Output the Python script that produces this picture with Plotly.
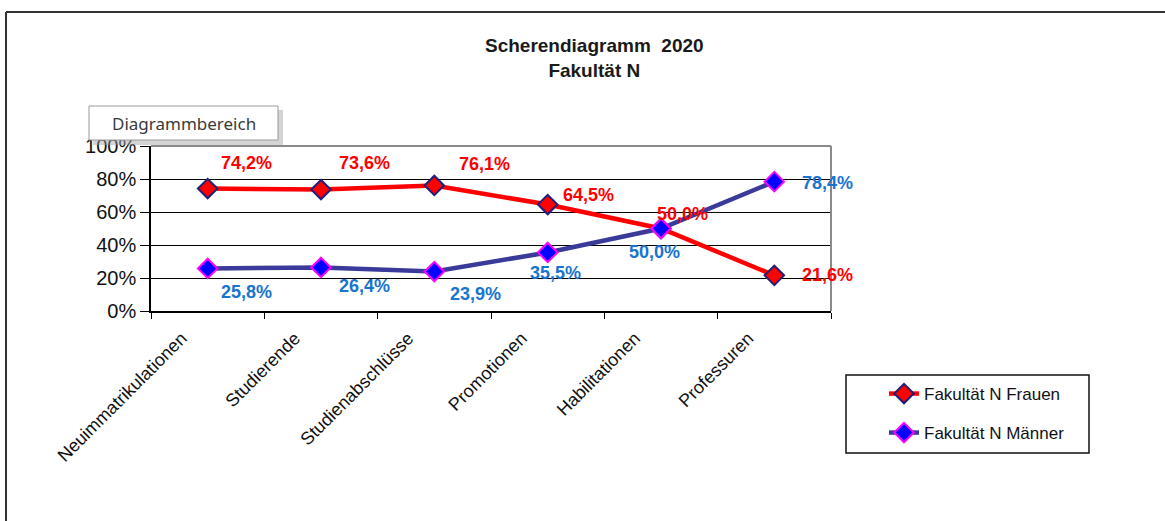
import plotly.graph_objects as go

categories = ["Neuimmatrikulationen", "Studierende", "Studienabschlüsse",
              "Promotionen", "Habilitationen", "Professuren"]
frauen = [74.2, 73.6, 76.1, 64.5, 50.0, 21.6]
maenner = [25.8, 26.4, 23.9, 35.5, 50.0, 78.4]
y_ticks = [0, 20, 40, 60, 80, 100]
y_ticktext = [f"{v}%" for v in y_ticks]

# label offsets (pixels) relative to each point: (xshift, yshift)
frauen_off = [(11, 26), (16, 27), (23, 21), (13, 10), (-6, 15), (26, 0)]
maenner_off = [(11, -24), (16, -19), (14, -22), (-20, -21), (-34, -23), (26, -1)]

W, H = 1165, 521
L, R, T, B = 151, 831, 146, 311


def px(x):
    return (x - L) / (R - L)


def py(y):
    return (B - y) / (B - T)


RED = "#FF0000"
NAVY = "#3A3A9A"
LBLUE = "#1874D0"

fig = go.Figure()
fig.add_trace(go.Scatter(
    x=categories, y=frauen, mode="lines+markers", name="Fakultät N Frauen",
    line=dict(color=RED, width=4.5),
    marker=dict(symbol="diamond", size=15, color=RED, line=dict(color="#1F1F7A", width=2)),
    legend="legend",
))
fig.add_trace(go.Scatter(
    x=categories, y=maenner, mode="lines+markers", name="Fakultät N Männer",
    line=dict(color=NAVY, width=4.5),
    marker=dict(symbol="diamond", size=15, color="#0000FF", line=dict(color="#FF00FF", width=2)),
    legend="legend2",
))


def fmt(v):
    return f"{v:.1f}".replace(".", ",") + "%"


annotations = []
for c, v, (dx, dy) in zip(categories, frauen, frauen_off):
    annotations.append(dict(x=c, y=v, xref="x", yref="y", text=fmt(v), showarrow=False,
                            xanchor="left", yanchor="middle", xshift=dx, yshift=dy,
                            font=dict(family="Liberation Sans, Arial", size=18, color=RED, weight="bold")))
for c, v, (dx, dy) in zip(categories, maenner, maenner_off):
    annotations.append(dict(x=c, y=v, xref="x", yref="y", text=fmt(v), showarrow=False,
                            xanchor="left", yanchor="middle", xshift=dx, yshift=dy,
                            font=dict(family="Liberation Sans, Arial", size=18, color=LBLUE, weight="bold")))

# title
annotations.append(dict(x=px(594), y=py(58), xref="paper", yref="paper",
                        text="<b>Scherendiagramm  2020<br>Fakultät N</b>", showarrow=False,
                        xanchor="center", yanchor="middle",
                        font=dict(family="Liberation Sans, Arial", size=19, color="#1a1a1a")))
# tooltip
annotations.append(dict(x=px(184), y=py(123), xref="paper", yref="paper",
                        text="Diagrammbereich", showarrow=False,
                        xanchor="center", yanchor="middle",
                        font=dict(family="Noto Sans, Open Sans", size=17, color="#3a3a3a")))

shapes = [
    # outer chart frame
    dict(type="line", xref="paper", yref="paper", x0=px(6), x1=px(6), y0=py(12), y1=py(530),
         line=dict(color="#333333", width=2)),
    dict(type="line", xref="paper", yref="paper", x0=px(6), x1=px(1170), y0=py(12), y1=py(12),
         line=dict(color="#333333", width=2)),
    # plot area top / right border
    dict(type="line", xref="paper", yref="paper", x0=0, x1=1, y0=1, y1=1,
         line=dict(color="#8a8a8a", width=2)),
    dict(type="line", xref="paper", yref="paper", x0=1, x1=1, y0=0, y1=1,
         line=dict(color="#8a8a8a", width=2)),
    # tooltip shadow and box
    dict(type="rect", xref="paper", yref="paper", x0=px(93), x1=px(283), y0=py(110), y1=py(145),
         fillcolor="rgba(160,160,160,0.45)", line=dict(width=0)),
    dict(type="rect", xref="paper", yref="paper", x0=px(89), x1=px(278), y0=py(106), y1=py(140),
         fillcolor="white", line=dict(color="#9a9a9a", width=1)),
    # legend border
    dict(type="rect", xref="paper", yref="paper", x0=px(846), x1=px(1089), y0=py(375), y1=py(453),
         line=dict(color="#111111", width=1.5)),
]

legend_font = dict(family="Liberation Sans, Arial", size=17, color="#111111")
fig.update_layout(
    width=W, height=H,
    margin=dict(l=L, r=W - R, t=T, b=H - B),
    paper_bgcolor="white", plot_bgcolor="white",
    showlegend=True,
    legend=dict(x=px(884), y=py(394), xanchor="left", yanchor="middle",
                bgcolor="rgba(0,0,0,0)", borderwidth=0, font=legend_font),
    legend2=dict(x=px(884), y=py(433), xanchor="left", yanchor="middle",
                 bgcolor="rgba(0,0,0,0)", borderwidth=0, font=legend_font),
    annotations=annotations,
    shapes=shapes,
    xaxis=dict(type="category", range=[-0.5, len(categories) - 0.5],
               showline=True, linecolor="black", linewidth=1.5,
               ticks="outside", tickson="boundaries", ticklen=6, tickcolor="black",
               showgrid=False, tickangle=-45, ticklabelshift=-26, ticklabelstandoff=8,
               tickfont=dict(family="Liberation Sans, Arial", size=18, color="#111111")),
    yaxis=dict(range=[0, 100], tickvals=y_ticks, ticktext=y_ticktext,
               showline=True, linecolor="black", linewidth=1.5,
               ticks="outside", ticklen=9, tickcolor="black",
               showgrid=True, gridcolor="black", gridwidth=1.2, zeroline=False,
               tickfont=dict(family="Liberation Sans, Arial", size=20, color="#111111")),
)

fig.write_html("out.html", config={"displayModeBar": False},
               post_script="document.body.style.margin='0';")
